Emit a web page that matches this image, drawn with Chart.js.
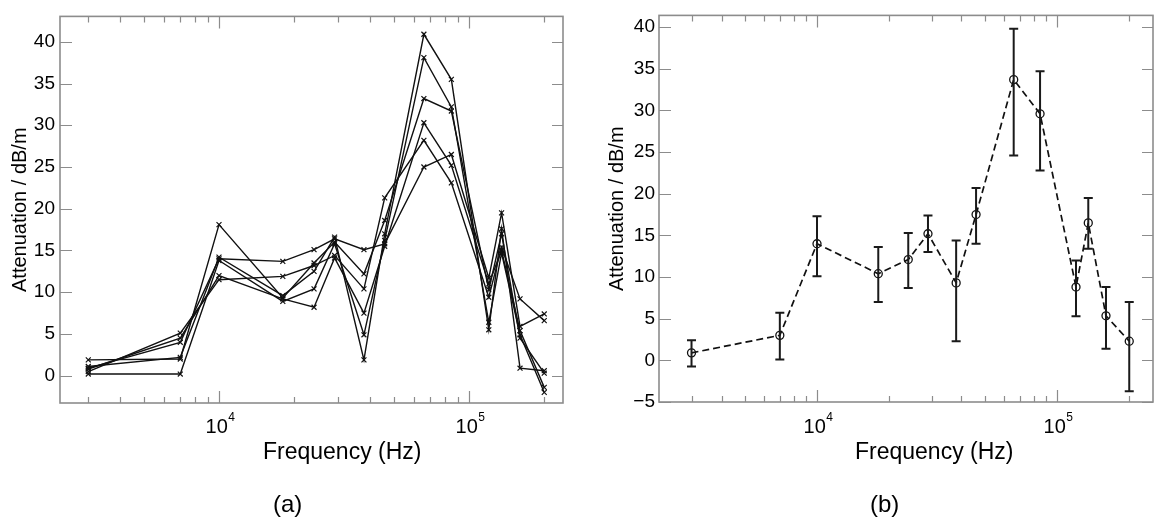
<!DOCTYPE html>
<html>
<head>
<meta charset="utf-8">
<script src="https://cdn.jsdelivr.net/npm/chart.js@4.4.1/dist/chart.umd.min.js"></script>
<style>
  body { margin: 0; background: #fff; width: 1165px; height: 526px; position: relative; overflow: hidden;
         font-family: "Liberation Sans", Arial, sans-serif; }
  .panel { position: absolute; top: 0; height: 470px; }
  #wrapA { left: 0; width: 575px; }
  #wrapB { left: 600px; width: 565px; }
  .lbl { position: absolute; color: #000; white-space: nowrap; line-height: 1; }
  .xt { font-size: 23px; }
  .tag { font-size: 24px; }
</style>
</head>
<body>
<div class="panel" id="wrapA"><canvas id="chartA"></canvas></div>
<div class="panel" id="wrapB"><canvas id="chartB"></canvas></div>
<div class="lbl xt" style="left:263px; top:440px;">Frequency (Hz)</div>
<div class="lbl xt" style="left:855px; top:440px;">Frequency (Hz)</div>
<div class="lbl tag" style="left:273px; top:492px;">(a)</div>
<div class="lbl tag" style="left:870px; top:492px;">(b)</div>
<script>
// frequencies shared by both panels (Hz)
const freqs = [3000, 7000, 10000, 18000, 24000, 29000, 38000, 46000, 66000, 85000, 120000, 135000, 160000, 200000];

// (a) individual runs, dB/m
const run1 = [0.9, 4.0, 14.0, 13.7, 15.1, 16.4, 15.1, 15.8, 25.0, 26.5, 11.7, 19.5, 5.9, 7.4];
const run2 = [1.9, 2.0, 18.1, 9.3, 13.5, 16.0, 12.2, 18.6, 33.2, 31.7, 10.3, 17.0, 4.5, 0.3];
const run3 = [0.5, 5.1, 11.5, 11.9, 13.2, 14.4, 10.4, 21.3, 28.2, 23.1, 9.4, 15.4, 9.2, 6.6];
const run4 = [1.1, 2.2, 14.2, 9.6, 12.5, 16.6, 1.9, 17.0, 40.9, 35.5, 5.5, 17.6, 0.9, 0.6];
const run5 = [0.2, 0.2, 13.8, 8.9, 10.4, 15.8, 4.9, 16.2, 38.1, 32.2, 6.4, 14.7, 4.9, -2.0];
const run6 = [0.8, 4.5, 12.0, 9.2, 8.2, 14.1, 7.5, 15.5, 30.3, 25.2, 11.0, 15.0, 5.4, -1.4];

// (b) mean with error range
const meanAtt = [0.9, 3.0, 14.0, 10.4, 12.1, 15.2, 9.3, 17.5, 33.7, 29.6, 8.8, 16.5, 5.35, 2.3];
const errHigh = [2.4, 5.7, 17.3, 13.6, 15.3, 17.4, 14.4, 20.7, 39.8, 34.7, 12.0, 19.5, 8.8, 7.0];
const errLow  = [-0.75, 0.1, 10.1, 7.0, 8.7, 13.0, 2.3, 14.0, 24.6, 22.8, 5.3, 13.4, 1.4, -3.7];

// tick values
const xMajor = [10000, 100000];
const xMinor = [3000, 4000, 5000, 6000, 7000, 8000, 9000, 20000, 30000, 40000, 50000, 60000, 70000, 80000, 90000, 200000];
const yTicksA = [0, 5, 10, 15, 20, 25, 30, 35, 40];
const yTicksB = [-5, 0, 5, 10, 15, 20, 25, 30, 35, 40];

const FONT = '"Liberation Sans", Arial, sans-serif';

function pts(vals) {
    return freqs.map((f, i) => ({ x: f, y: vals[i] }));
}

// box, inward tick marks and 10^n labels
const frame = {
    id: 'frame',
    afterDraw(chart, args, opts) {
        const { ctx, chartArea: a, scales: { x, y } } = chart;
        ctx.save();
        ctx.strokeStyle = '#8c8c8c';
        ctx.lineWidth = 1.6;
        ctx.strokeRect(a.left, a.top, a.right - a.left, a.bottom - a.top);
        ctx.lineWidth = 1.2;
        ctx.beginPath();
        xMajor.concat(xMinor).forEach(v => {
            const px = Math.round(x.getPixelForValue(v)) + 0.5;
            const len = xMajor.includes(v) ? 12 : 6;
            ctx.moveTo(px, a.bottom); ctx.lineTo(px, a.bottom - len);
            ctx.moveTo(px, a.top); ctx.lineTo(px, a.top + len);
        });
        opts.yTicks.forEach(v => {
            const py = Math.round(y.getPixelForValue(v)) + 0.5;
            ctx.moveTo(a.left, py); ctx.lineTo(a.left + 12, py);
            ctx.moveTo(a.right, py); ctx.lineTo(a.right - 11, py);
        });
        ctx.stroke();

        ctx.fillStyle = '#000';
        ctx.textBaseline = 'alphabetic';
        ctx.textAlign = 'left';
        xMajor.forEach(v => {
            const base = '10', exp = String(Math.round(Math.log10(v)));
            ctx.font = '20px ' + FONT;
            const wb = ctx.measureText(base).width;
            ctx.font = '12px ' + FONT;
            const we = ctx.measureText(exp).width;
            const px = x.getPixelForValue(v);
            const x0 = px - (wb + we) / 2 + 1;
            ctx.font = '20px ' + FONT;
            ctx.fillText(base, x0, 433);
            ctx.font = '12px ' + FONT;
            ctx.fillText(exp, x0 + wb + 0.5, 421);
        });
        ctx.restore();
    }
};

// vertical error bars with caps for panel (b)
const errorBars = {
    id: 'errorBars',
    afterDatasetsDraw(chart) {
        if (!chart.options.plugins.errorBars) return;
        const { ctx, scales: { x, y } } = chart;
        ctx.save();
        ctx.strokeStyle = '#1a1a1a';
        ctx.lineWidth = 2;
        ctx.beginPath();
        freqs.forEach((f, i) => {
            const px = x.getPixelForValue(f);
            const top = y.getPixelForValue(errHigh[i]);
            const bot = y.getPixelForValue(errLow[i]);
            ctx.moveTo(px, top); ctx.lineTo(px, bot);
            ctx.moveTo(px - 4.5, top); ctx.lineTo(px + 4.5, top);
            ctx.moveTo(px - 4.5, bot); ctx.lineTo(px + 4.5, bot);
        });
        ctx.stroke();
        ctx.restore();
    }
};

function axes(xmin, xmax, ymin, ymax, yTicks, yWidth, xHeight, titlePad, labelPad) {
    return {
        x: {
            type: 'logarithmic', min: xmin, max: xmax,
            grid: { display: false, drawTicks: false },
            border: { display: false },
            ticks: { display: false },
            afterFit: s => { s.height = xHeight; }
        },
        y: {
            type: 'linear', min: ymin, max: ymax,
            grid: { display: false, drawTicks: false },
            border: { display: false },
            afterBuildTicks: s => { s.ticks = yTicks.map(v => ({ value: v })); },
            ticks: {
                color: '#000', padding: labelPad,
                font: { family: FONT, size: 19 },
                callback: v => v < 0 ? '\u2212' + Math.abs(v) : String(v)
            },
            title: {
                display: true, text: 'Attenuation / dB/m', color: '#000',
                font: { family: FONT, size: 20, lineHeight: 1.2 },
                padding: { top: titlePad, bottom: 0 }
            },
            afterFit: s => { s.width = yWidth; }
        }
    };
}

const runStyle = {
    showLine: true, borderColor: '#111', borderWidth: 1.4,
    pointStyle: 'crossRot', pointRadius: 3.5, pointBorderWidth: 1.2,
    pointBorderColor: '#111', backgroundColor: 'transparent'
};

new Chart(document.getElementById('chartA'), {
    type: 'scatter',
    data: {
        datasets: [run1, run2, run3, run4, run5, run6].map((r, i) => Object.assign({ label: 'Run ' + (i + 1), data: pts(r) }, runStyle))
    },
    options: {
        responsive: true, maintainAspectRatio: false, animation: false,
        layout: { padding: { top: 7, right: 12, left: 0, bottom: 0 } },
        plugins: { legend: { display: false }, tooltip: { enabled: false }, frame: { yTicks: yTicksA } },
        scales: axes(2312, 237700, -3.27, 43.04, yTicksA, 60, 67, 8, 5)
    },
    plugins: [frame]
});

new Chart(document.getElementById('chartB'), {
    type: 'scatter',
    data: {
        datasets: [{
            label: 'Mean', data: pts(meanAtt), showLine: true,
            borderColor: '#111', borderWidth: 1.7, borderDash: [7, 4],
            pointStyle: 'circle', pointRadius: 4, pointBorderWidth: 1.3,
            pointBorderColor: '#111', backgroundColor: 'transparent'
        }]
    },
    options: {
        responsive: true, maintainAspectRatio: false, animation: false,
        layout: { padding: { top: 7, right: 12, left: 0, bottom: 0 } },
        plugins: { legend: { display: false }, tooltip: { enabled: false }, frame: { yTicks: yTicksB }, errorBars: true },
        scales: axes(2196, 251190, -5, 41.41, yTicksB, 59, 68, 5, 4)
    },
    plugins: [frame, errorBars]
});
</script>
</body>
</html>
